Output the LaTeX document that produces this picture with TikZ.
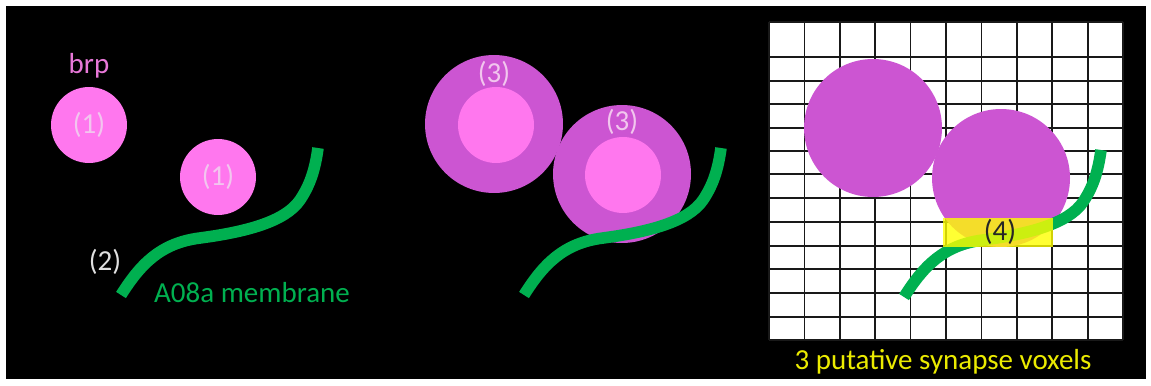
\documentclass[tikz,border=0pt]{standalone}
\usepackage{fontspec}
\setmainfont{Carlito}
\begin{document}
\begin{tikzpicture}[x={(0.02cm,0)},y={(0,-0.02cm)},
  lbl/.style={inner sep=0pt,font=\fontsize{16.5}{19}\selectfont},
  small/.style={circle,fill=brppink,draw=none,minimum size=1.52cm,inner sep=0pt},
  big/.style={circle,fill=brpmag,draw=none,minimum size=2.76cm,inner sep=0pt},
  membrane/.style={draw=memgreen,line width=6.6pt},
  gridline/.style={draw=black!90,line width=1pt}]
\definecolor{brppink}{HTML}{FF77EE}
\definecolor{brpmag}{HTML}{CC55D2}
\definecolor{memgreen}{HTML}{00B050}
\definecolor{numpink}{HTML}{F2C6EE}
\definecolor{brptext}{HTML}{E878D8}
\definecolor{voxyellow}{HTML}{FFFF00}
\useasboundingbox (0,0) rectangle (1151,385);
\fill[white] (0,0) rectangle (1151,385);
\fill[black] (6,6) rectangle (1146,379);
% ---------- panel 1 ----------
\node[small] (c1a) at (89,125) {};
\node[small] (c1b) at (218,177) {};
\node[lbl,text=numpink] (n1a) at (c1a) {(1)};
\node[lbl,text=numpink] (n1b) at (c1b) {(1)};
\node[lbl,text=brptext] (brp) at (89,66) {brp};
\draw[membrane] (121,295) .. controls (140,265) and (160,243) .. (200,238) .. controls (245,232) and (285,222) .. (300,200) .. controls (310,185) and (315,170) .. (318,148);
\node[lbl,text=white!88!black] (n2) at (105,262) {(2)};
\node[lbl,text=memgreen] (mem) at (252,293) {A08a membrane};
% ---------- panel 2 ----------
\node[big] (c2a) at (494,124) {};
\node[small] (c2ai) at (496,125) {};
\node[big] (c2b) at (622,174) {};
\node[small] (c2bi) at (623,175) {};
\node[lbl,text=numpink] (n3a) at (494,74) {(3)};
\node[lbl,text=numpink] (n3b) at (622,122) {(3)};
\begin{scope}[shift={(403,0)}]
\draw[membrane] (121,295) .. controls (140,265) and (160,243) .. (200,238) .. controls (245,232) and (285,222) .. (300,200) .. controls (310,185) and (315,170) .. (318,148);
\end{scope}
% ---------- panel 3 ----------
\fill[white] (769,22) rectangle (1123,340);
\foreach \gx in {769,804.4,839.8,875.2,910.6,946,981.4,1016.8,1052.2,1087.6,1123}
  \draw[gridline] (\gx,22) -- (\gx,340);
\foreach \gy in {22,57,81,104,128,151,174,198,222,246,269,293,317,340}
  \draw[gridline] (769,\gy) -- (1123,\gy);
\node[big] (c3a) at (873,128) {};
\node[big] (c3b) at (1001,178) {};
\begin{scope}[shift={(783,2)}]
\draw[membrane] (121,295) .. controls (140,265) and (160,243) .. (200,238) .. controls (245,232) and (285,222) .. (300,200) .. controls (310,185) and (315,170) .. (318,148);
\end{scope}
\fill[voxyellow,opacity=0.8] (943,218) rectangle (1053,247);
\node[lbl,text=black!85] (n4) at (1000,232) {(4)};
\node[lbl,text=voxyellow!92!black] (vox) at (943,362) {3 putative synapse voxels};
\end{tikzpicture}
\end{document}
